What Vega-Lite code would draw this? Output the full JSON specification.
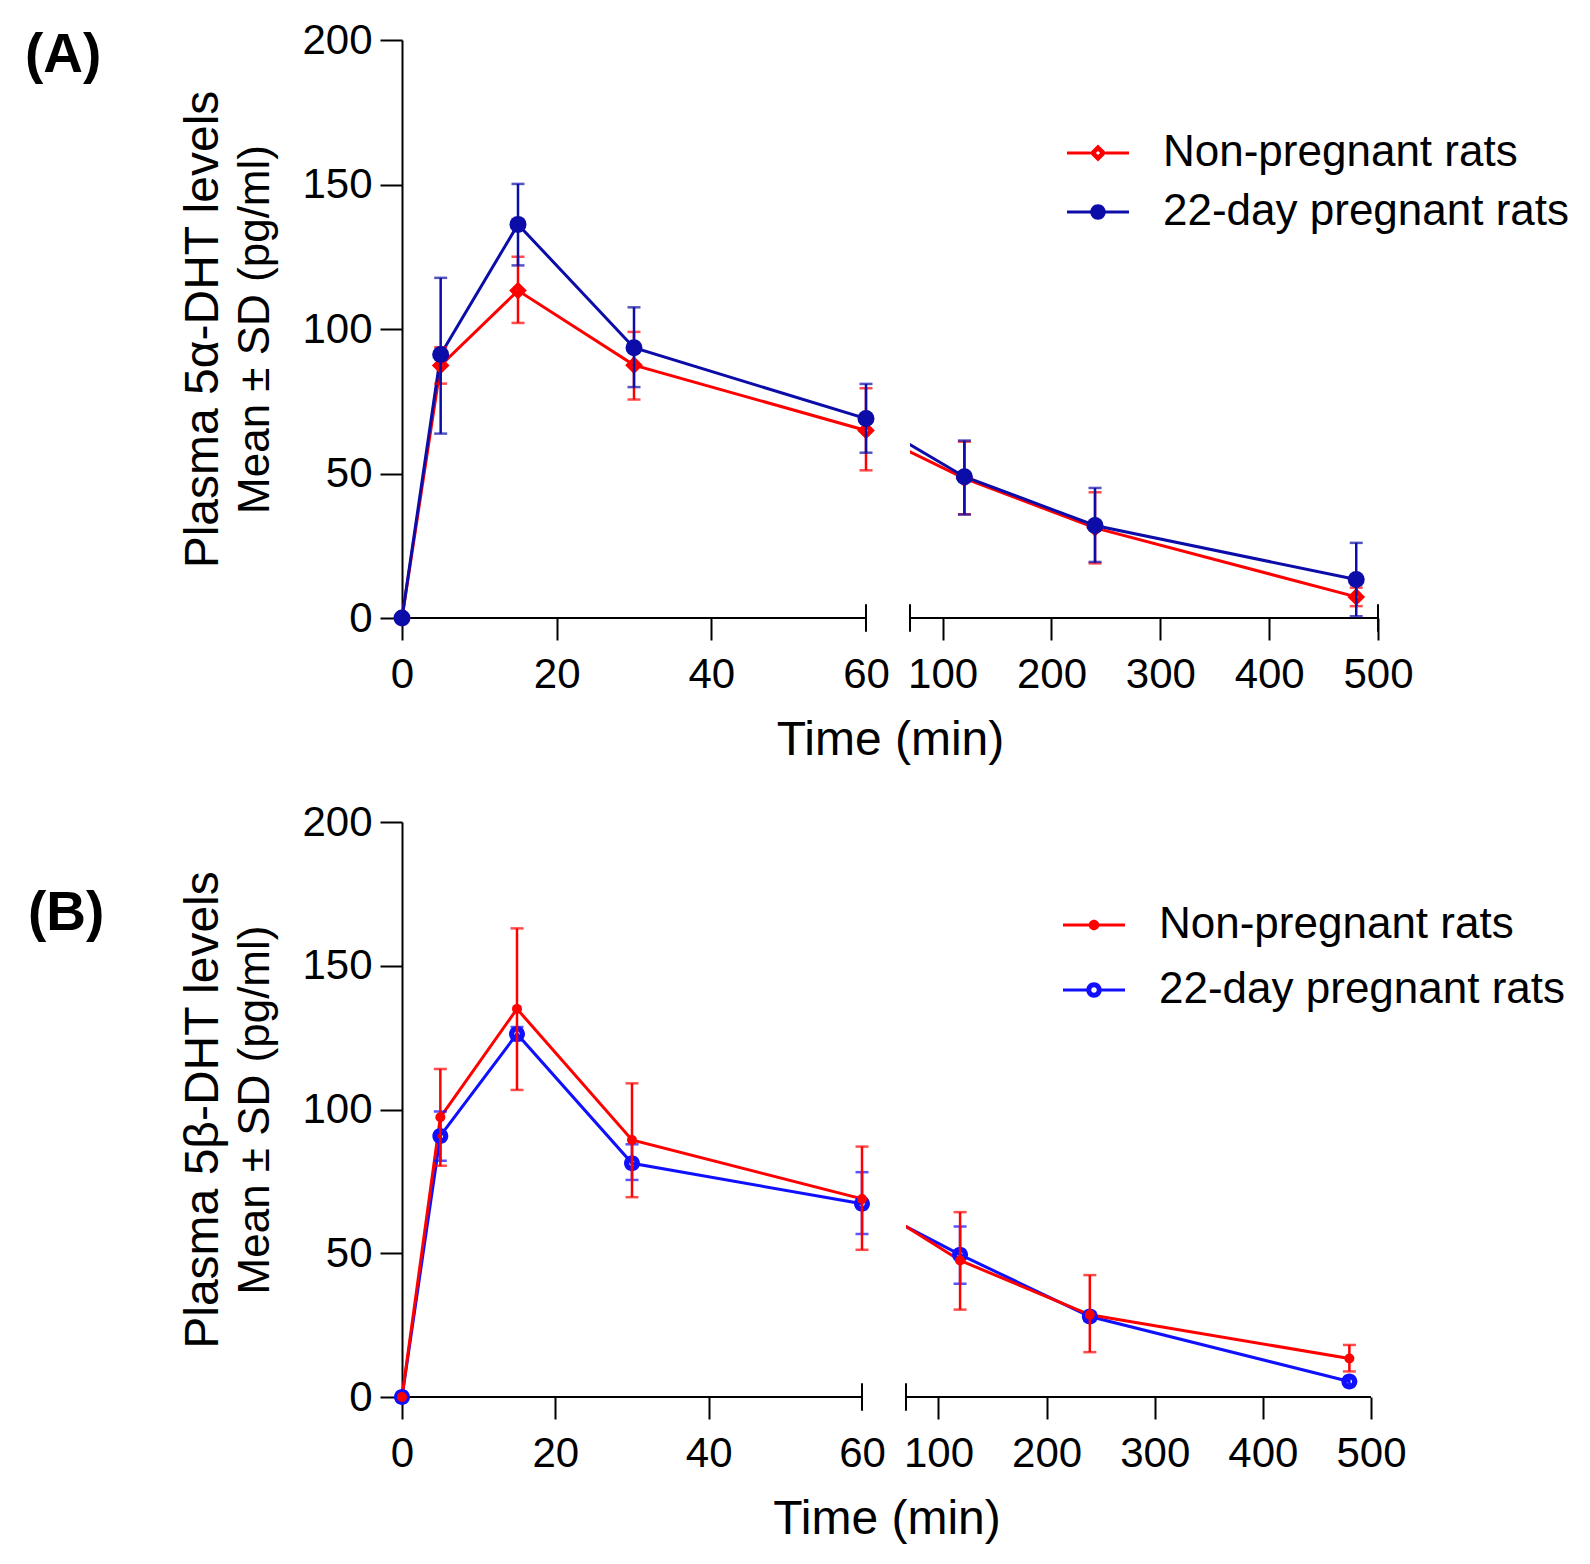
{
  "$schema": "https://vega.github.io/schema/vega-lite/v6.json",
  "padding": {"left": 25, "top": 19, "right": 5, "bottom": 5},
  "background": "white",
  "datasets": {
    "a": [
      {"g": "Non-pregnant rats", "t": 0, "m": 0, "lo": 0, "hi": 0},
      {"g": "Non-pregnant rats", "t": 5, "m": 87.4, "lo": 81.1, "hi": 93.7},
      {"g": "Non-pregnant rats", "t": 15, "m": 113.3, "lo": 102.1, "hi": 125},
      {"g": "Non-pregnant rats", "t": 30, "m": 87.5, "lo": 75.6, "hi": 99},
      {"g": "Non-pregnant rats", "t": 60, "m": 64.9, "lo": 51.1, "hi": 79.5},
      {"g": "Non-pregnant rats", "t": 120, "m": 48.3, "lo": 35.9, "hi": 61},
      {"g": "Non-pregnant rats", "t": 240, "m": 31.2, "lo": 18.9, "hi": 43.5},
      {"g": "Non-pregnant rats", "t": 480, "m": 7.3, "lo": 4.1, "hi": 10.5},
      {"g": "22-day pregnant rats", "t": 0, "m": 0, "lo": 0, "hi": 0},
      {"g": "22-day pregnant rats", "t": 5, "m": 91.2, "lo": 63.8, "hi": 117.7},
      {"g": "22-day pregnant rats", "t": 15, "m": 136.2, "lo": 122, "hi": 150.2},
      {"g": "22-day pregnant rats", "t": 30, "m": 93.5, "lo": 79.9, "hi": 107.5},
      {"g": "22-day pregnant rats", "t": 60, "m": 69, "lo": 57.2, "hi": 81},
      {"g": "22-day pregnant rats", "t": 120, "m": 48.9, "lo": 35.8, "hi": 61.4},
      {"g": "22-day pregnant rats", "t": 240, "m": 32, "lo": 19.4, "hi": 45},
      {"g": "22-day pregnant rats", "t": 480, "m": 13.3, "lo": 0.6, "hi": 26}
    ],
    "b": [
      {"g": "Non-pregnant rats", "t": 0, "m": 0, "lo": 0, "hi": 0},
      {"g": "Non-pregnant rats", "t": 5, "m": 97.3, "lo": 80.4, "hi": 114.1},
      {"g": "Non-pregnant rats", "t": 15, "m": 135, "lo": 106.8, "hi": 163},
      {"g": "Non-pregnant rats", "t": 30, "m": 89.4, "lo": 69.5, "hi": 109.1},
      {"g": "Non-pregnant rats", "t": 60, "m": 68.9, "lo": 51.2, "hi": 87.1},
      {"g": "Non-pregnant rats", "t": 120, "m": 47.5, "lo": 30.4, "hi": 64.3},
      {"g": "Non-pregnant rats", "t": 240, "m": 28.6, "lo": 15.6, "hi": 42.4},
      {"g": "Non-pregnant rats", "t": 480, "m": 13.4, "lo": 8.9, "hi": 18.1},
      {"g": "22-day pregnant rats", "t": 0, "m": 0, "lo": 0, "hi": 0},
      {"g": "22-day pregnant rats", "t": 5, "m": 90.8, "lo": 82.2, "hi": 99.3},
      {"g": "22-day pregnant rats", "t": 15, "m": 126.3, "lo": 124, "hi": 128.7},
      {"g": "22-day pregnant rats", "t": 30, "m": 81.3, "lo": 75.5, "hi": 87.9},
      {"g": "22-day pregnant rats", "t": 60, "m": 67.2, "lo": 56.7, "hi": 78.2},
      {"g": "22-day pregnant rats", "t": 120, "m": 49.5, "lo": 39.4, "hi": 59.3},
      {"g": "22-day pregnant rats", "t": 240, "m": 28, "lo": 26.5, "hi": 29.5},
      {"g": "22-day pregnant rats", "t": 480, "m": 5.4, "lo": 4.5, "hi": 6.3}
    ],
    "gap": [{"t": 60, "t2": 70}],
    "base": [{"t": 0, "t2": 60}, {"t": 70, "t2": 500}],
    "brkA": [{"t": 60}, {"t": 70}, {"t": 500}],
    "brkB": [{"t": 60}, {"t": 70}]
  },
  "vconcat": [
    {
      "width": 976,
      "height": 578,
      "title": {"text": "(A)", "dx": -377, "dy": 69},
      "resolve": {"axis": {"x": "independent", "y": "independent"}},
      "layer": [
        {
          "data": {"name": "a"},
          "transform": [{"filter": "datum.g === 'Non-pregnant rats'"}],
          "mark": {"type": "line", "strokeWidth": 3, "color": "#ff0000"},
          "encoding": {
            "x": {
              "field": "t", "type": "quantitative",
              "scale": {"domain": [0, 60, 70, 500], "range": [0, 464, 508, 976], "nice": false, "zero": false},
              "axis": {
                "values": [0, 20, 40, 60, 100, 200, 300, 400, 500],
                "domain": false,
                "tickOpacity": {"condition": {"test": "datum.value === 60", "value": 0}, "value": 1},
                "labelFontSize": 42, "labelPadding": 14,
                "title": "Time (min)", "titleFontSize": 48, "titlePadding": 21
              }
            },
            "y": {
              "field": "m", "type": "quantitative",
              "scale": {"domain": [0, 200], "nice": false},
              "axis": {
                "orient": "left", "values": [0, 50, 100, 150, 200],
                "labelFontSize": 42, "labelPadding": 8,
                "title": "Mean ± SD (pg/ml)", "titleFontSize": 44, "titlePadding": 24
              }
            }
          }
        },
        {
          "data": {"name": "a"},
          "transform": [{"filter": "datum.g === '22-day pregnant rats'"}],
          "mark": {"type": "line", "strokeWidth": 3, "color": "#0c0ca8"},
          "encoding": {
            "x": {"field": "t", "type": "quantitative", "axis": null},
            "y": {"field": "m", "type": "quantitative", "axis": null}
          }
        },
        {
          "data": {"name": "gap"},
          "mark": {"type": "rect", "color": "white"},
          "encoding": {
            "x": {"field": "t", "type": "quantitative", "axis": null},
            "x2": {"field": "t2"},
            "y": {"datum": 0, "type": "quantitative", "axis": null},
            "y2": {"datum": 200}
          }
        },
        {
          "data": {"name": "base"},
          "mark": {"type": "rule", "strokeWidth": 2, "color": "black"},
          "encoding": {
            "x": {"field": "t", "type": "quantitative", "axis": null},
            "x2": {"field": "t2"},
            "y": {"datum": 0, "type": "quantitative", "axis": null}
          }
        },
        {
          "data": {"name": "brkA"},
          "mark": {"type": "rule", "strokeWidth": 2, "color": "black"},
          "encoding": {
            "x": {"field": "t", "type": "quantitative", "axis": null},
            "y": {"datum": -4.8, "type": "quantitative", "axis": null},
            "y2": {"datum": 4.8}
          }
        },
        {
          "data": {"name": "a"},
          "transform": [{"filter": "datum.g === 'Non-pregnant rats' && datum.t > 0"}],
          "mark": {"type": "errorbar", "ticks": true, "size": 13, "thickness": 2.5, "color": "#ff0000"},
          "encoding": {
            "x": {"field": "t", "type": "quantitative", "axis": null},
            "y": {"field": "lo", "type": "quantitative", "axis": null},
            "y2": {"field": "hi"}
          }
        },
        {
          "data": {"name": "a"},
          "transform": [{"filter": "datum.g === 'Non-pregnant rats'"}],
          "mark": {"type": "point", "shape": "M0,-1L1,0L0,1L-1,0Z M0,-0.24L-0.24,0L0,0.24L0.24,0Z", "size": 313, "filled": true, "opacity": 1, "color": "#ff0000", "strokeWidth": 0},
          "encoding": {
            "x": {"field": "t", "type": "quantitative", "axis": null},
            "y": {"field": "m", "type": "quantitative", "axis": null}
          }
        },
        {
          "data": {"name": "a"},
          "transform": [{"filter": "datum.g === '22-day pregnant rats' && datum.t > 0"}],
          "mark": {"type": "errorbar", "ticks": true, "size": 13, "thickness": 2.5, "color": "#0c0ca8"},
          "encoding": {
            "x": {"field": "t", "type": "quantitative", "axis": null},
            "y": {"field": "lo", "type": "quantitative", "axis": null},
            "y2": {"field": "hi"}
          }
        },
        {
          "data": {"name": "a"},
          "transform": [{"filter": "datum.g === '22-day pregnant rats'"}],
          "mark": {"type": "point", "shape": "circle", "size": 289, "filled": true, "opacity": 1, "color": "#0c0ca8", "strokeWidth": 0},
          "encoding": {
            "x": {"field": "t", "type": "quantitative", "axis": null},
            "y": {
              "field": "m", "type": "quantitative",
              "axis": {"orient": "left", "title": "Plasma 5α-DHT levels", "titleFontSize": 48, "labels": false, "ticks": false, "domain": false, "titlePadding": 175}
            }
          }
        },
        {
          "data": {"name": "a"},
          "transform": [{"filter": "datum.t < 0"}],
          "mark": {"type": "point", "filled": true, "opacity": 1, "size": 240, "strokeWidth": 0},
          "encoding": {
            "x": {"field": "t", "type": "quantitative", "axis": null},
            "y": {"field": "m", "type": "quantitative", "axis": null},
            "color": {
              "field": "g", "type": "nominal",
              "scale": {"domain": ["Non-pregnant rats", "22-day pregnant rats"], "range": ["#ff0000", "#0c0ca8"]},
              "legend": {"title": null, "orient": "none", "legendX": 674, "legendY": 91, "rowPadding": 15, "labelOffset": 43, "symbolSize": 240}
            },
            "shape": {
              "field": "g", "type": "nominal",
              "scale": {
                "domain": ["Non-pregnant rats", "22-day pregnant rats"],
                "range": [
                  "M-4,-0.2H-1V0.2H-4Z M1,-0.2H4V0.2H1Z M0,-1.1L1.1,0L0,1.1L-1.1,0Z M0,-0.27L-0.27,0L0,0.27L0.27,0Z",
                  "M-4,-0.2H4V0.2H-4Z M1,0A1,1,0,1,1,-1,0A1,1,0,1,1,1,0Z"
                ]
              },
              "legend": {"title": null, "orient": "none", "legendX": 674, "legendY": 91, "rowPadding": 15, "labelOffset": 43, "symbolSize": 240}
            }
          }
        }
      ]
    },
    {
      "width": 969,
      "height": 575,
      "title": {"text": "(B)", "dx": -374, "dy": 145},
      "resolve": {"axis": {"x": "independent", "y": "independent"}},
      "layer": [
        {
          "data": {"name": "b"},
          "transform": [{"filter": "datum.g === '22-day pregnant rats'"}],
          "mark": {"type": "line", "strokeWidth": 3, "color": "#1010ff"},
          "encoding": {
            "x": {
              "field": "t", "type": "quantitative",
              "scale": {"domain": [0, 60, 70, 500], "range": [0, 460, 504, 969], "nice": false, "zero": false},
              "axis": {
                "values": [0, 20, 40, 60, 100, 200, 300, 400, 500],
                "domain": false,
                "tickOpacity": {"condition": {"test": "datum.value === 60", "value": 0}, "value": 1},
                "labelFontSize": 42, "labelPadding": 14,
                "title": "Time (min)", "titleFontSize": 48, "titlePadding": 21
              }
            },
            "y": {
              "field": "m", "type": "quantitative",
              "scale": {"domain": [0, 200], "nice": false},
              "axis": {
                "orient": "left", "values": [0, 50, 100, 150, 200],
                "labelFontSize": 42, "labelPadding": 8,
                "title": "Mean ± SD (pg/ml)", "titleFontSize": 44, "titlePadding": 24
              }
            }
          }
        },
        {
          "data": {"name": "b"},
          "transform": [{"filter": "datum.g === 'Non-pregnant rats'"}],
          "mark": {"type": "line", "strokeWidth": 3, "color": "#ff0000"},
          "encoding": {
            "x": {"field": "t", "type": "quantitative", "axis": null},
            "y": {"field": "m", "type": "quantitative", "axis": null}
          }
        },
        {
          "data": {"name": "gap"},
          "mark": {"type": "rect", "color": "white"},
          "encoding": {
            "x": {"field": "t", "type": "quantitative", "axis": null},
            "x2": {"field": "t2"},
            "y": {"datum": 0, "type": "quantitative", "axis": null},
            "y2": {"datum": 200}
          }
        },
        {
          "data": {"name": "base"},
          "mark": {"type": "rule", "strokeWidth": 2, "color": "black"},
          "encoding": {
            "x": {"field": "t", "type": "quantitative", "axis": null},
            "x2": {"field": "t2"},
            "y": {"datum": 0, "type": "quantitative", "axis": null}
          }
        },
        {
          "data": {"name": "brkB"},
          "mark": {"type": "rule", "strokeWidth": 2, "color": "black"},
          "encoding": {
            "x": {"field": "t", "type": "quantitative", "axis": null},
            "y": {"datum": -4.8, "type": "quantitative", "axis": null},
            "y2": {"datum": 4.8}
          }
        },
        {
          "data": {"name": "b"},
          "transform": [{"filter": "datum.g === '22-day pregnant rats' && datum.t > 0"}],
          "mark": {"type": "errorbar", "ticks": true, "size": 13, "thickness": 2.5, "color": "#1010ff"},
          "encoding": {
            "x": {"field": "t", "type": "quantitative", "axis": null},
            "y": {"field": "lo", "type": "quantitative", "axis": null},
            "y2": {"field": "hi"}
          }
        },
        {
          "data": {"name": "b"},
          "transform": [{"filter": "datum.g === '22-day pregnant rats'"}],
          "mark": {"type": "point", "shape": "M1,0A1,1,0,1,1,-1,0A1,1,0,1,1,1,0Z M0.34,0A0.34,0.34,0,1,0,-0.34,0A0.34,0.34,0,1,0,0.34,0Z", "size": 256, "filled": true, "opacity": 1, "color": "#1010ff", "strokeWidth": 0},
          "encoding": {
            "x": {"field": "t", "type": "quantitative", "axis": null},
            "y": {"field": "m", "type": "quantitative", "axis": null}
          }
        },
        {
          "data": {"name": "b"},
          "transform": [{"filter": "datum.g === 'Non-pregnant rats' && datum.t > 0"}],
          "mark": {"type": "errorbar", "ticks": true, "size": 13, "thickness": 2.5, "color": "#ff0000"},
          "encoding": {
            "x": {"field": "t", "type": "quantitative", "axis": null},
            "y": {"field": "lo", "type": "quantitative", "axis": null},
            "y2": {"field": "hi"}
          }
        },
        {
          "data": {"name": "b"},
          "transform": [{"filter": "datum.g === 'Non-pregnant rats'"}],
          "mark": {"type": "point", "shape": "circle", "size": 100, "filled": true, "opacity": 1, "color": "#ff0000", "strokeWidth": 0},
          "encoding": {
            "x": {"field": "t", "type": "quantitative", "axis": null},
            "y": {
              "field": "m", "type": "quantitative",
              "axis": {"orient": "left", "title": "Plasma 5β-DHT levels", "titleFontSize": 48, "labels": false, "ticks": false, "domain": false, "titlePadding": 175}
            }
          }
        },
        {
          "data": {"name": "b"},
          "transform": [{"filter": "datum.t < 0"}],
          "mark": {"type": "point", "filled": true, "opacity": 1, "size": 240, "strokeWidth": 0},
          "encoding": {
            "x": {"field": "t", "type": "quantitative", "axis": null},
            "y": {"field": "m", "type": "quantitative", "axis": null},
            "color": {
              "field": "g", "type": "nominal",
              "scale": {"domain": ["Non-pregnant rats", "22-day pregnant rats"], "range": ["#ff0000", "#1010ff"]},
              "legend": {"title": null, "orient": "none", "legendX": 670, "legendY": 81, "rowPadding": 21, "labelOffset": 43, "symbolSize": 240}
            },
            "shape": {
              "field": "g", "type": "nominal",
              "scale": {
                "domain": ["Non-pregnant rats", "22-day pregnant rats"],
                "range": [
                  "M-4,-0.2H4V0.2H-4Z M0.68,0A0.68,0.68,0,1,1,-0.68,0A0.68,0.68,0,1,1,0.68,0Z",
                  "M-4,-0.2H-0.9V0.2H-4Z M0.9,-0.2H4V0.2H0.9Z M1,0A1,1,0,1,1,-1,0A1,1,0,1,1,1,0Z M0.36,0A0.36,0.36,0,1,0,-0.36,0A0.36,0.36,0,1,0,0.36,0Z"
                ]
              },
              "legend": {"title": null, "orient": "none", "legendX": 670, "legendY": 81, "rowPadding": 21, "labelOffset": 43, "symbolSize": 240}
            }
          }
        }
      ]
    }
  ],
  "spacing": 204,
  "bounds": "flush",
  "resolve": {"scale": {"color": "independent", "shape": "independent", "x": "independent", "y": "independent"}},
  "config": {
    "view": {"stroke": null},
    "font": "Liberation Sans",
    "axis": {
      "labelFont": "Liberation Sans", "titleFont": "Liberation Sans",
      "labelColor": "black", "titleColor": "black", "titleFontWeight": "normal",
      "grid": false, "labelFlush": false, "labelOverlap": false,
      "domainColor": "black", "domainWidth": 2,
      "tickColor": "black", "tickWidth": 2, "tickSize": 22
    },
    "legend": {
      "labelFont": "Liberation Sans", "labelColor": "black", "labelFontSize": 44,
      "labelLimit": 800, "padding": 0, "symbolStrokeWidth": 0
    },
    "title": {
      "font": "Liberation Sans", "fontSize": 55, "fontWeight": "bold", "color": "black",
      "anchor": "start", "frame": "group", "offset": 0, "baseline": "alphabetic"
    }
  }
}
